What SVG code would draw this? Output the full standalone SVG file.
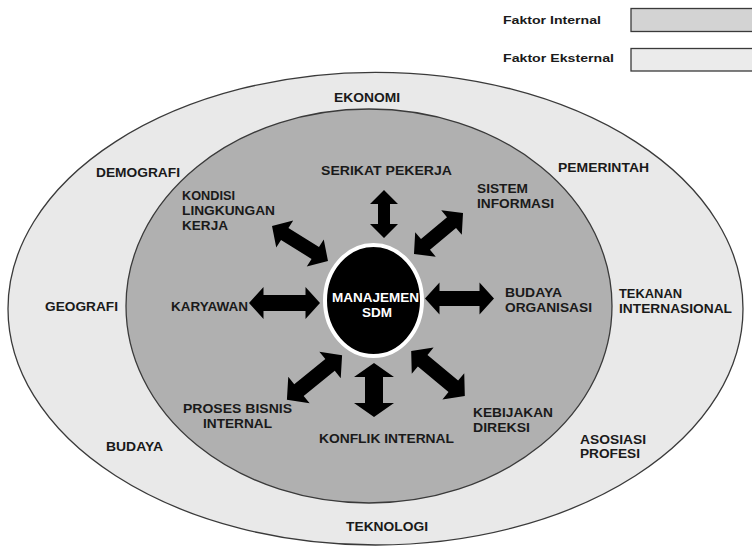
<svg xmlns="http://www.w3.org/2000/svg" width="752" height="547" viewBox="0 0 752 547">
  <style>
    .lbl { font-family: "Liberation Sans", Arial, sans-serif; font-weight: bold; font-size: 13px; fill: #1a1a1a; }
    .leg { font-family: "Liberation Sans", Arial, sans-serif; font-weight: bold; font-size: 11.5px; fill: #1a1a1a; }
    .core { font-family: "Liberation Sans", Arial, sans-serif; font-weight: bold; font-size: 13.5px; fill: #ffffff; }
    .ring { stroke: #3a3a3a; stroke-width: 1.3; }
    .arrow { fill: #000000; }
  </style>

  <rect width="752" height="547" fill="#ffffff"/>

  <!-- legend -->
  <g id="legend">
    <text class="leg" x="503" y="24" textLength="98" lengthAdjust="spacingAndGlyphs">Faktor Internal</text>
    <rect x="631" y="8.5" width="130" height="23" fill="#d3d3d3" stroke="#3a3a3a" stroke-width="1.3"/>
    <text class="leg" x="503" y="62" textLength="111" lengthAdjust="spacingAndGlyphs">Faktor Eksternal</text>
    <rect x="631" y="48.5" width="130" height="22.5" fill="#ebebeb" stroke="#3a3a3a" stroke-width="1.3"/>
  </g>

  <!-- external factors ring -->
  <g id="external">
    <ellipse class="ring" cx="375.5" cy="308.7" rx="367.5" ry="236.3" fill="#e9e9e9"/>
    <text class="lbl" x="334" y="102" textLength="66" lengthAdjust="spacingAndGlyphs">EKONOMI</text>
    <text class="lbl" x="96" y="177" textLength="84" lengthAdjust="spacingAndGlyphs">DEMOGRAFI</text>
    <text class="lbl" x="558" y="172" textLength="91" lengthAdjust="spacingAndGlyphs">PEMERINTAH</text>
    <text class="lbl" x="45" y="311" textLength="73" lengthAdjust="spacingAndGlyphs">GEOGRAFI</text>
    <text class="lbl" x="619" y="298" textLength="63" lengthAdjust="spacingAndGlyphs">TEKANAN</text>
    <text class="lbl" x="619" y="313" textLength="113" lengthAdjust="spacingAndGlyphs">INTERNASIONAL</text>
    <text class="lbl" x="106" y="451" textLength="57" lengthAdjust="spacingAndGlyphs">BUDAYA</text>
    <text class="lbl" x="580" y="444" textLength="66" lengthAdjust="spacingAndGlyphs">ASOSIASI</text>
    <text class="lbl" x="580" y="458" textLength="60" lengthAdjust="spacingAndGlyphs">PROFESI</text>
    <text class="lbl" x="346" y="531" textLength="82" lengthAdjust="spacingAndGlyphs">TEKNOLOGI</text>
  </g>

  <!-- internal factors ring -->
  <g id="internal">
    <ellipse class="ring" cx="369" cy="306" rx="243" ry="197" fill="#b0b0b0"/>
    <text class="lbl" x="321" y="175" textLength="131" lengthAdjust="spacingAndGlyphs">SERIKAT PEKERJA</text>
    <text class="lbl" x="182" y="200" textLength="53" lengthAdjust="spacingAndGlyphs">KONDISI</text>
    <text class="lbl" x="182" y="215" textLength="93" lengthAdjust="spacingAndGlyphs">LINGKUNGAN</text>
    <text class="lbl" x="182" y="230" textLength="46" lengthAdjust="spacingAndGlyphs">KERJA</text>
    <text class="lbl" x="477" y="193" textLength="51" lengthAdjust="spacingAndGlyphs">SISTEM</text>
    <text class="lbl" x="477" y="208" textLength="77" lengthAdjust="spacingAndGlyphs">INFORMASI</text>
    <text class="lbl" x="171" y="311" textLength="77" lengthAdjust="spacingAndGlyphs">KARYAWAN</text>
    <text class="lbl" x="505" y="297" textLength="57" lengthAdjust="spacingAndGlyphs">BUDAYA</text>
    <text class="lbl" x="505" y="312" textLength="87" lengthAdjust="spacingAndGlyphs">ORGANISASI</text>
    <text class="lbl" x="183" y="413" textLength="109" lengthAdjust="spacingAndGlyphs">PROSES BISNIS</text>
    <text class="lbl" x="203" y="428" textLength="69" lengthAdjust="spacingAndGlyphs">INTERNAL</text>
    <text class="lbl" x="319" y="443" textLength="135" lengthAdjust="spacingAndGlyphs">KONFLIK INTERNAL</text>
    <text class="lbl" x="473" y="417" textLength="80" lengthAdjust="spacingAndGlyphs">KEBIJAKAN</text>
    <text class="lbl" x="473" y="432" textLength="57" lengthAdjust="spacingAndGlyphs">DIREKSI</text>
  </g>

  <!-- two-way links between the core and each internal factor -->
  <g id="connectors">
    <!-- serikat pekerja -->
    <polygon class="arrow" transform="translate(384,214) rotate(90)" points="-24,0 -10,-14 -10,-6 10,-6 10,-14 24,0 10,14 10,6 -10,6 -10,14"/>
    <!-- kondisi lingkungan kerja -->
    <polygon class="arrow" transform="translate(300,243.5) rotate(32)" points="-33,0 -18,-16 -18,-7 18,-7 18,-16 33,0 18,16 18,7 -18,7 -18,16"/>
    <!-- sistem informasi -->
    <polygon class="arrow" transform="translate(438.5,233.5) rotate(-40)" points="-32,0 -17,-16 -17,-7 17,-7 17,-16 32,0 17,16 17,7 -17,7 -17,16"/>
    <!-- karyawan -->
    <polygon class="arrow" transform="translate(284.5,303) rotate(0)" points="-35.5,0 -21,-16 -21,-8 21,-8 21,-16 35.5,0 21,16 21,8 -21,8 -21,16"/>
    <!-- budaya organisasi -->
    <polygon class="arrow" transform="translate(459.5,298.5) rotate(0)" points="-34.5,0 -20,-16 -20,-7.5 20,-7.5 20,-16 34.5,0 20,16 20,7.5 -20,7.5 -20,16"/>
    <!-- proses bisnis internal -->
    <polygon class="arrow" transform="translate(314.5,377.5) rotate(-39)" points="-35.5,0 -20,-17 -20,-7.5 20,-7.5 20,-17 35.5,0 20,17 20,7.5 -20,7.5 -20,17"/>
    <!-- konflik internal -->
    <polygon class="arrow" transform="translate(374,390) rotate(90)" points="-27,0 -13,-20 -13,-9 13,-9 13,-20 27,0 13,20 13,9 -13,9 -13,20"/>
    <!-- kebijakan direksi -->
    <polygon class="arrow" transform="translate(438,373.5) rotate(40)" points="-35,0 -20,-17 -20,-7.5 20,-7.5 20,-17 35,0 20,17 20,7.5 -20,7.5 -20,17"/>
  </g>

  <!-- core node -->
  <g id="core">
    <ellipse cx="373.5" cy="300.5" rx="48.5" ry="55.5" fill="#000000" stroke="#ffffff" stroke-width="4"/>
    <text class="core" x="332" y="302" textLength="87" lengthAdjust="spacingAndGlyphs">MANAJEMEN</text>
    <text class="core" x="362" y="317" textLength="30" lengthAdjust="spacingAndGlyphs">SDM</text>
  </g>
</svg>
